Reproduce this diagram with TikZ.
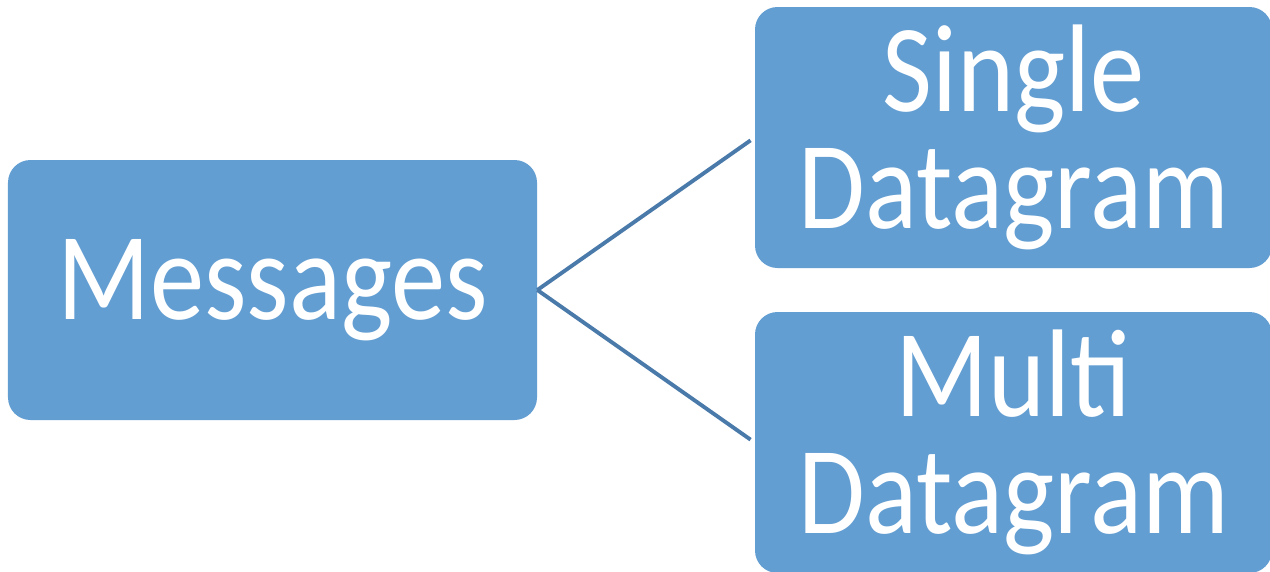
\documentclass[tikz,border=0pt]{standalone}
\usepackage{fontspec}
\newfontfamily\boxfont{Carlito}[FakeStretch=0.87]
\definecolor{boxblue}{RGB}{99,158,210}
\definecolor{lineblue}{RGB}{74,122,170}
\tikzset{
  catbox/.style={fill=boxblue, rounded corners=0.45cm, inner sep=0pt,
    text=white, align=center, font=\boxfont\fontsize{71}{66.5}\selectfont},
}

\begin{document}
\begin{tikzpicture}
    \useasboundingbox (0, 0) rectangle (25.4, -11.42);

    \node[catbox, minimum width=10.58cm, minimum height=5.2cm] (msg) at (5.45, -5.8) {Messages};
    \node[catbox, minimum width=10.34cm, minimum height=5.22cm] (single) at (20.27, -2.75) {Single\\Datagram};
    \node[catbox, minimum width=10.34cm, minimum height=5.22cm] (multi) at (20.27, -8.85) {Multi\\Datagram};

    \draw[lineblue, line width=2.2pt, shorten >=0.1cm] (msg.east) -- (single.west);
    \draw[lineblue, line width=2.2pt, shorten >=0.1cm] (msg.east) -- (multi.west);
\end{tikzpicture}
\end{document}
